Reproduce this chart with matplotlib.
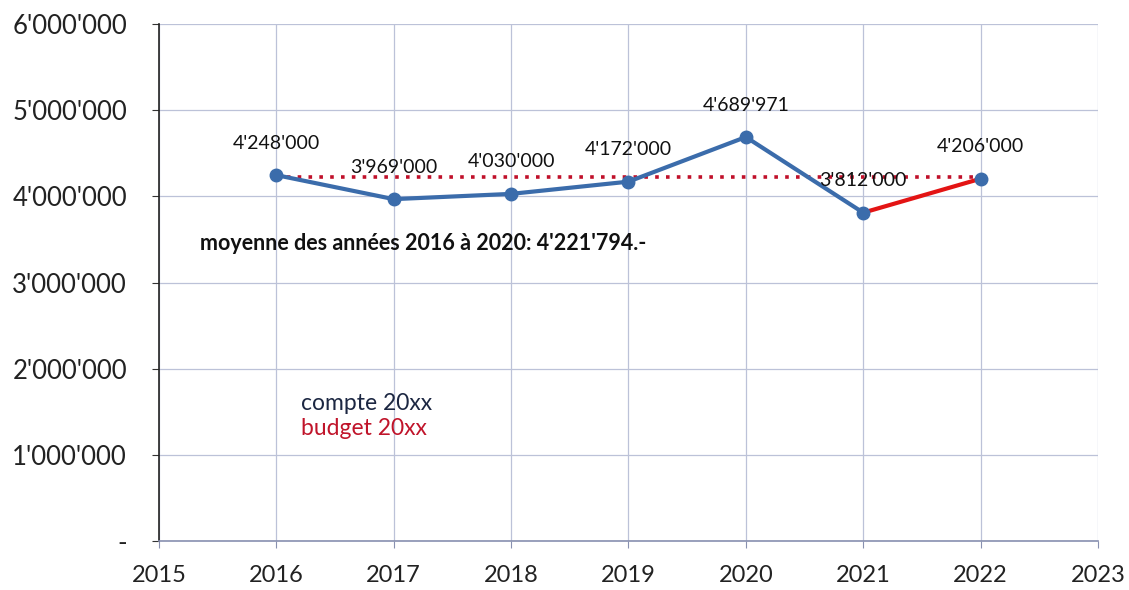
import matplotlib.pyplot as plt
from matplotlib.ticker import FuncFormatter

# données
annees = [2016, 2017, 2018, 2019, 2020, 2021, 2022]
compte = [4248000, 3969000, 4030000, 4172000, 4689971, 3812000, 4206000]
etiquettes = ["4'248'000", "3'969'000", "4'030'000", "4'172'000",
              "4'689'971", "3'812'000", "4'206'000"]
budget_annees = [2021, 2022]
budget = [3812000, 4206000]
moyenne = 4221794
moyenne_texte = "moyenne des années 2016 à 2020: 4'221'794.-"

plt.rcParams["font.family"] = ["Lato", "DejaVu Sans"]

fig = plt.figure(figsize=(11.29, 5.9), dpi=100)
ax = fig.add_axes([0.1408, 0.083, 0.8317, 0.876])

bleu = "#3b6cab"

# ligne de la moyenne (pointillés)
ax.plot([annees[0], annees[-1]], [moyenne, moyenne], color="#c0102a",
        linewidth=2.6, linestyle=(0, (1, 2)), zorder=3)

# compte
ax.plot(annees[:-1], compte[:-1], color=bleu, linewidth=3, zorder=4)
# budget
ax.plot(budget_annees, budget, color="#e31414", linewidth=3, zorder=5)
# marqueurs
ax.plot(annees, compte, linestyle="none", marker="o", markersize=9,
        color=bleu, zorder=6)

for x, y, t in zip(annees, compte, etiquettes):
    ax.annotate(t, (x, y), xytext=(0, 23), textcoords="offset points",
                ha="center", va="center", fontsize=14, color="#111111",
                zorder=7)

ax.text(2015.35, 3450000, moyenne_texte, fontsize=15.5, fontweight="bold",
        color="#111111", va="center", ha="left")

ax.text(2016.21, 1600000, "compte 20xx", fontsize=16.5, color="#1c2742",
        va="center")
ax.text(2016.21, 1310000, "budget 20xx", fontsize=16.5, color="#c0142a",
        va="center")

ax.set_xlim(2015, 2023)
ax.set_ylim(0, 6000000)
ax.set_xticks(range(2015, 2024))
ax.set_yticks(range(0, 6000001, 1000000))


def fmt(v, pos):
    if v == 0:
        return "-"
    return f"{int(v):,}".replace(",", "'")


ax.yaxis.set_major_formatter(FuncFormatter(fmt))
ax.tick_params(axis="y", labelsize=18.5, length=5, pad=18, color="#333333",
               labelcolor="#222222")
ax.tick_params(axis="x", labelsize=17, length=5, pad=12, color="#8890b0",
               labelcolor="#222222")

ax.grid(True, color="#bcc2d8", linewidth=0.9)
ax.set_axisbelow(True)
for s in ["top", "right"]:
    ax.spines[s].set_visible(False)
ax.spines["left"].set_color("#222222")
ax.spines["left"].set_linewidth(1.2)
ax.spines["bottom"].set_color("#8890b0")
ax.spines["bottom"].set_linewidth(1.2)

fig.savefig("out.png", dpi=100)
